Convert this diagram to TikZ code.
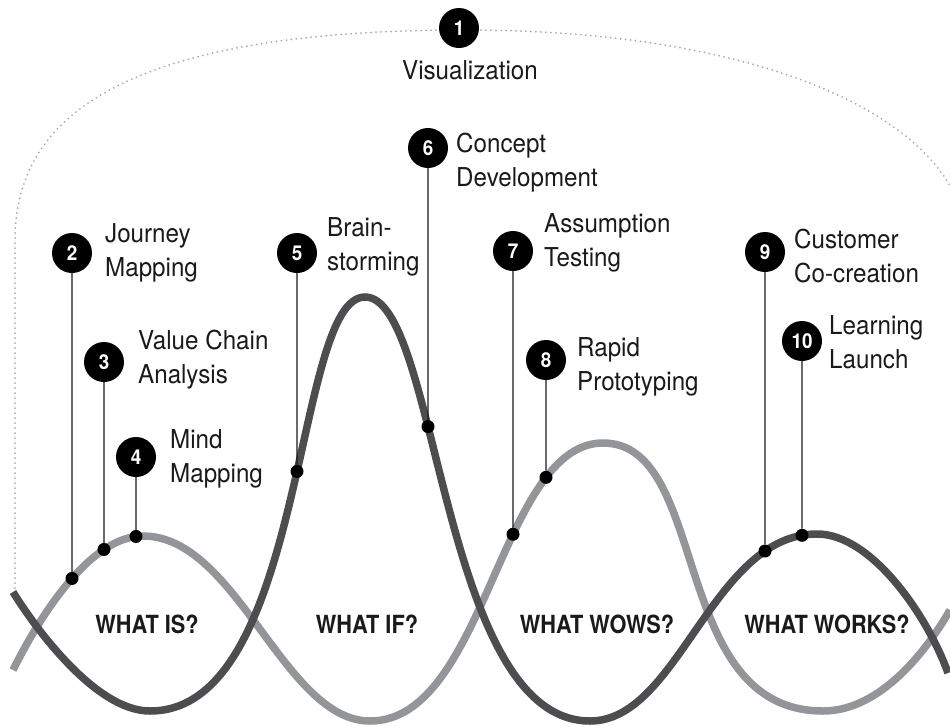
\documentclass[tikz,border=0pt]{standalone}
\usepackage{fontspec}
\setmainfont{TeX Gyre Heros}
\newfontfamily\labfont[FakeStretch=0.93]{TeX Gyre Heros}
\newfontfamily\regfont[FakeStretch=0.87]{TeX Gyre Heros}
\newfontfamily\numfont[FakeStretch=0.92]{TeX Gyre Heros}
\usetikzlibrary{intersections}
\definecolor{darkwave}{HTML}{4D4D4F}
\definecolor{lightwave}{HTML}{939598}
\definecolor{ink}{HTML}{1A1A1A}
\definecolor{dotgray}{HTML}{A7A9AC}
\tikzset{
  wave/.style={line width=7.5pt, line cap=butt},
  num/.style={circle, fill=black, minimum size=40pt, inner sep=0pt, text=white,
    font=\numfont\bfseries\fontsize{20.5}{20.5}\selectfont},
  lab/.style={anchor=base west, inner sep=0pt, align=left, text=ink,
    font=\labfont\fontsize{26}{34}\selectfont},
  region/.style={anchor=base, inner sep=0pt, text=ink,
    font=\regfont\bfseries\fontsize{25}{30}\selectfont},
  conn/.style={draw=ink, line width=1.3pt},
  pin/.style={circle, fill=black, minimum size=13pt, inner sep=0pt},
  dotline/.style={draw=dotgray, line width=2pt, line cap=round, dash pattern=on 0pt off 5pt}
}
\begin{document}
\begin{tikzpicture}[x=1pt,y=-1pt]
\useasboundingbox (0,0) rectangle (950,726);
\clip (0,0) rectangle (950,726);

% dotted arc
\draw[dotline] (15,588) -- (15,240) .. controls (15,110) and (136,30) .. (466,30)
  .. controls (766,30) and (968,120) .. (968,250);

% light wave
\draw[wave, draw=lightwave, name path=light] (13,670)
  .. controls (44,608) and (93,536) .. (143,536)
  .. controls (237,536) and (284,721) .. (370,721)
  .. controls (486,721) and (500,443) .. (603,443)
  .. controls (711,443) and (668,711) .. (823,711)
  .. controls (883,711) and (930,645) .. (950,610);

% dark wave
\draw[wave, draw=darkwave, name path=dark] (13,592)
  .. controls (34,626) and (95,711) .. (150,711)
  .. controls (307,711) and (293,297) .. (365,297)
  .. controls (439,297) and (440,721) .. (590,721)
  .. controls (679,721) and (712,534) .. (817,534)
  .. controls (872,534) and (928,617) .. (948,673);

% region labels
\node[region] (r1) at (147,633) {WHAT IS?};
\node[region] (r2) at (367,633) {WHAT IF?};
\node[region] (r3) at (597,633) {WHAT WOWS?};
\node[region] (r4) at (827,633) {WHAT WORKS?};

% numbered circles
\node[num] (c1) at (459,28) {1};
\node[num] (c2) at (72,253) {2};
\node[num] (c3) at (104,362) {3};
\node[num] (c4) at (136,457) {4};
\node[num] (c5) at (297,253) {5};
\node[num] (c6) at (428,148) {6};
\node[num] (c7) at (513,251) {7};
\node[num] (c8) at (546,360) {8};
\node[num] (c9) at (765,252) {9};
\node[num] (c10) at (802,341) {10};

% labels (anchor = baseline of the last line)
\node[anchor=base, inner sep=0pt, text=ink, font=\labfont\fontsize{26}{34}\selectfont] (l1) at (470,79) {Visualization};
\node[lab] (l2) at (105,276) {Journey\\Mapping};
\node[lab] (l3) at (138,383) {Value Chain\\Analysis};
\node[lab] (l4) at (170,482) {Mind\\Mapping};
\node[lab] (l5) at (327,270) {Brain-\\storming};
\node[lab] (l6) at (456,186) {Concept\\Development};
\node[lab] (l7) at (544,266) {Assumption\\Testing};
\node[lab] (l8) at (577,390) {Rapid\\Prototyping};
\node[lab] (l9) at (794,282) {Customer\\Co-creation};
\node[lab] (l10) at (829,368) {Learning\\Launch};

% pins on the waves
\path[name path=v2] (c2) -- ++(0,700);
\path[name intersections={of=light and v2, by=d2}];
\node[pin] (p2) at (d2) {};
\draw[conn] (c2) -- (p2);

\path[name path=v3] (c3) -- ++(0,700);
\path[name intersections={of=light and v3, by=d3}];
\node[pin] (p3) at (d3) {};
\draw[conn] (c3) -- (p3);

\path[name path=v4] (c4) -- ++(0,700);
\path[name intersections={of=light and v4, by=d4}];
\node[pin] (p4) at (d4) {};
\draw[conn] (c4) -- (p4);

\path[name path=v5] (c5) -- ++(0,700);
\path[name intersections={of=dark and v5, by=d5}];
\node[pin] (p5) at (d5) {};
\draw[conn] (c5) -- (p5);

\path[name path=v6] (c6) -- ++(0,700);
\path[name intersections={of=dark and v6, by=d6}];
\node[pin] (p6) at (d6) {};
\draw[conn] (c6) -- (p6);

\path[name path=v7] (c7) -- ++(0,700);
\path[name intersections={of=light and v7, by=d7}];
\node[pin] (p7) at (d7) {};
\draw[conn] (c7) -- (p7);

\path[name path=v8] (c8) -- ++(0,700);
\path[name intersections={of=light and v8, by=d8}];
\node[pin] (p8) at (d8) {};
\draw[conn] (c8) -- (p8);

\path[name path=v9] (c9) -- ++(0,700);
\path[name intersections={of=dark and v9, by=d9}];
\node[pin] (p9) at (d9) {};
\draw[conn] (c9) -- (p9);

\path[name path=v10] (c10) -- ++(0,700);
\path[name intersections={of=dark and v10, by=d10}];
\node[pin] (p10) at (d10) {};
\draw[conn] (c10) -- (p10);
\end{tikzpicture}
\end{document}
